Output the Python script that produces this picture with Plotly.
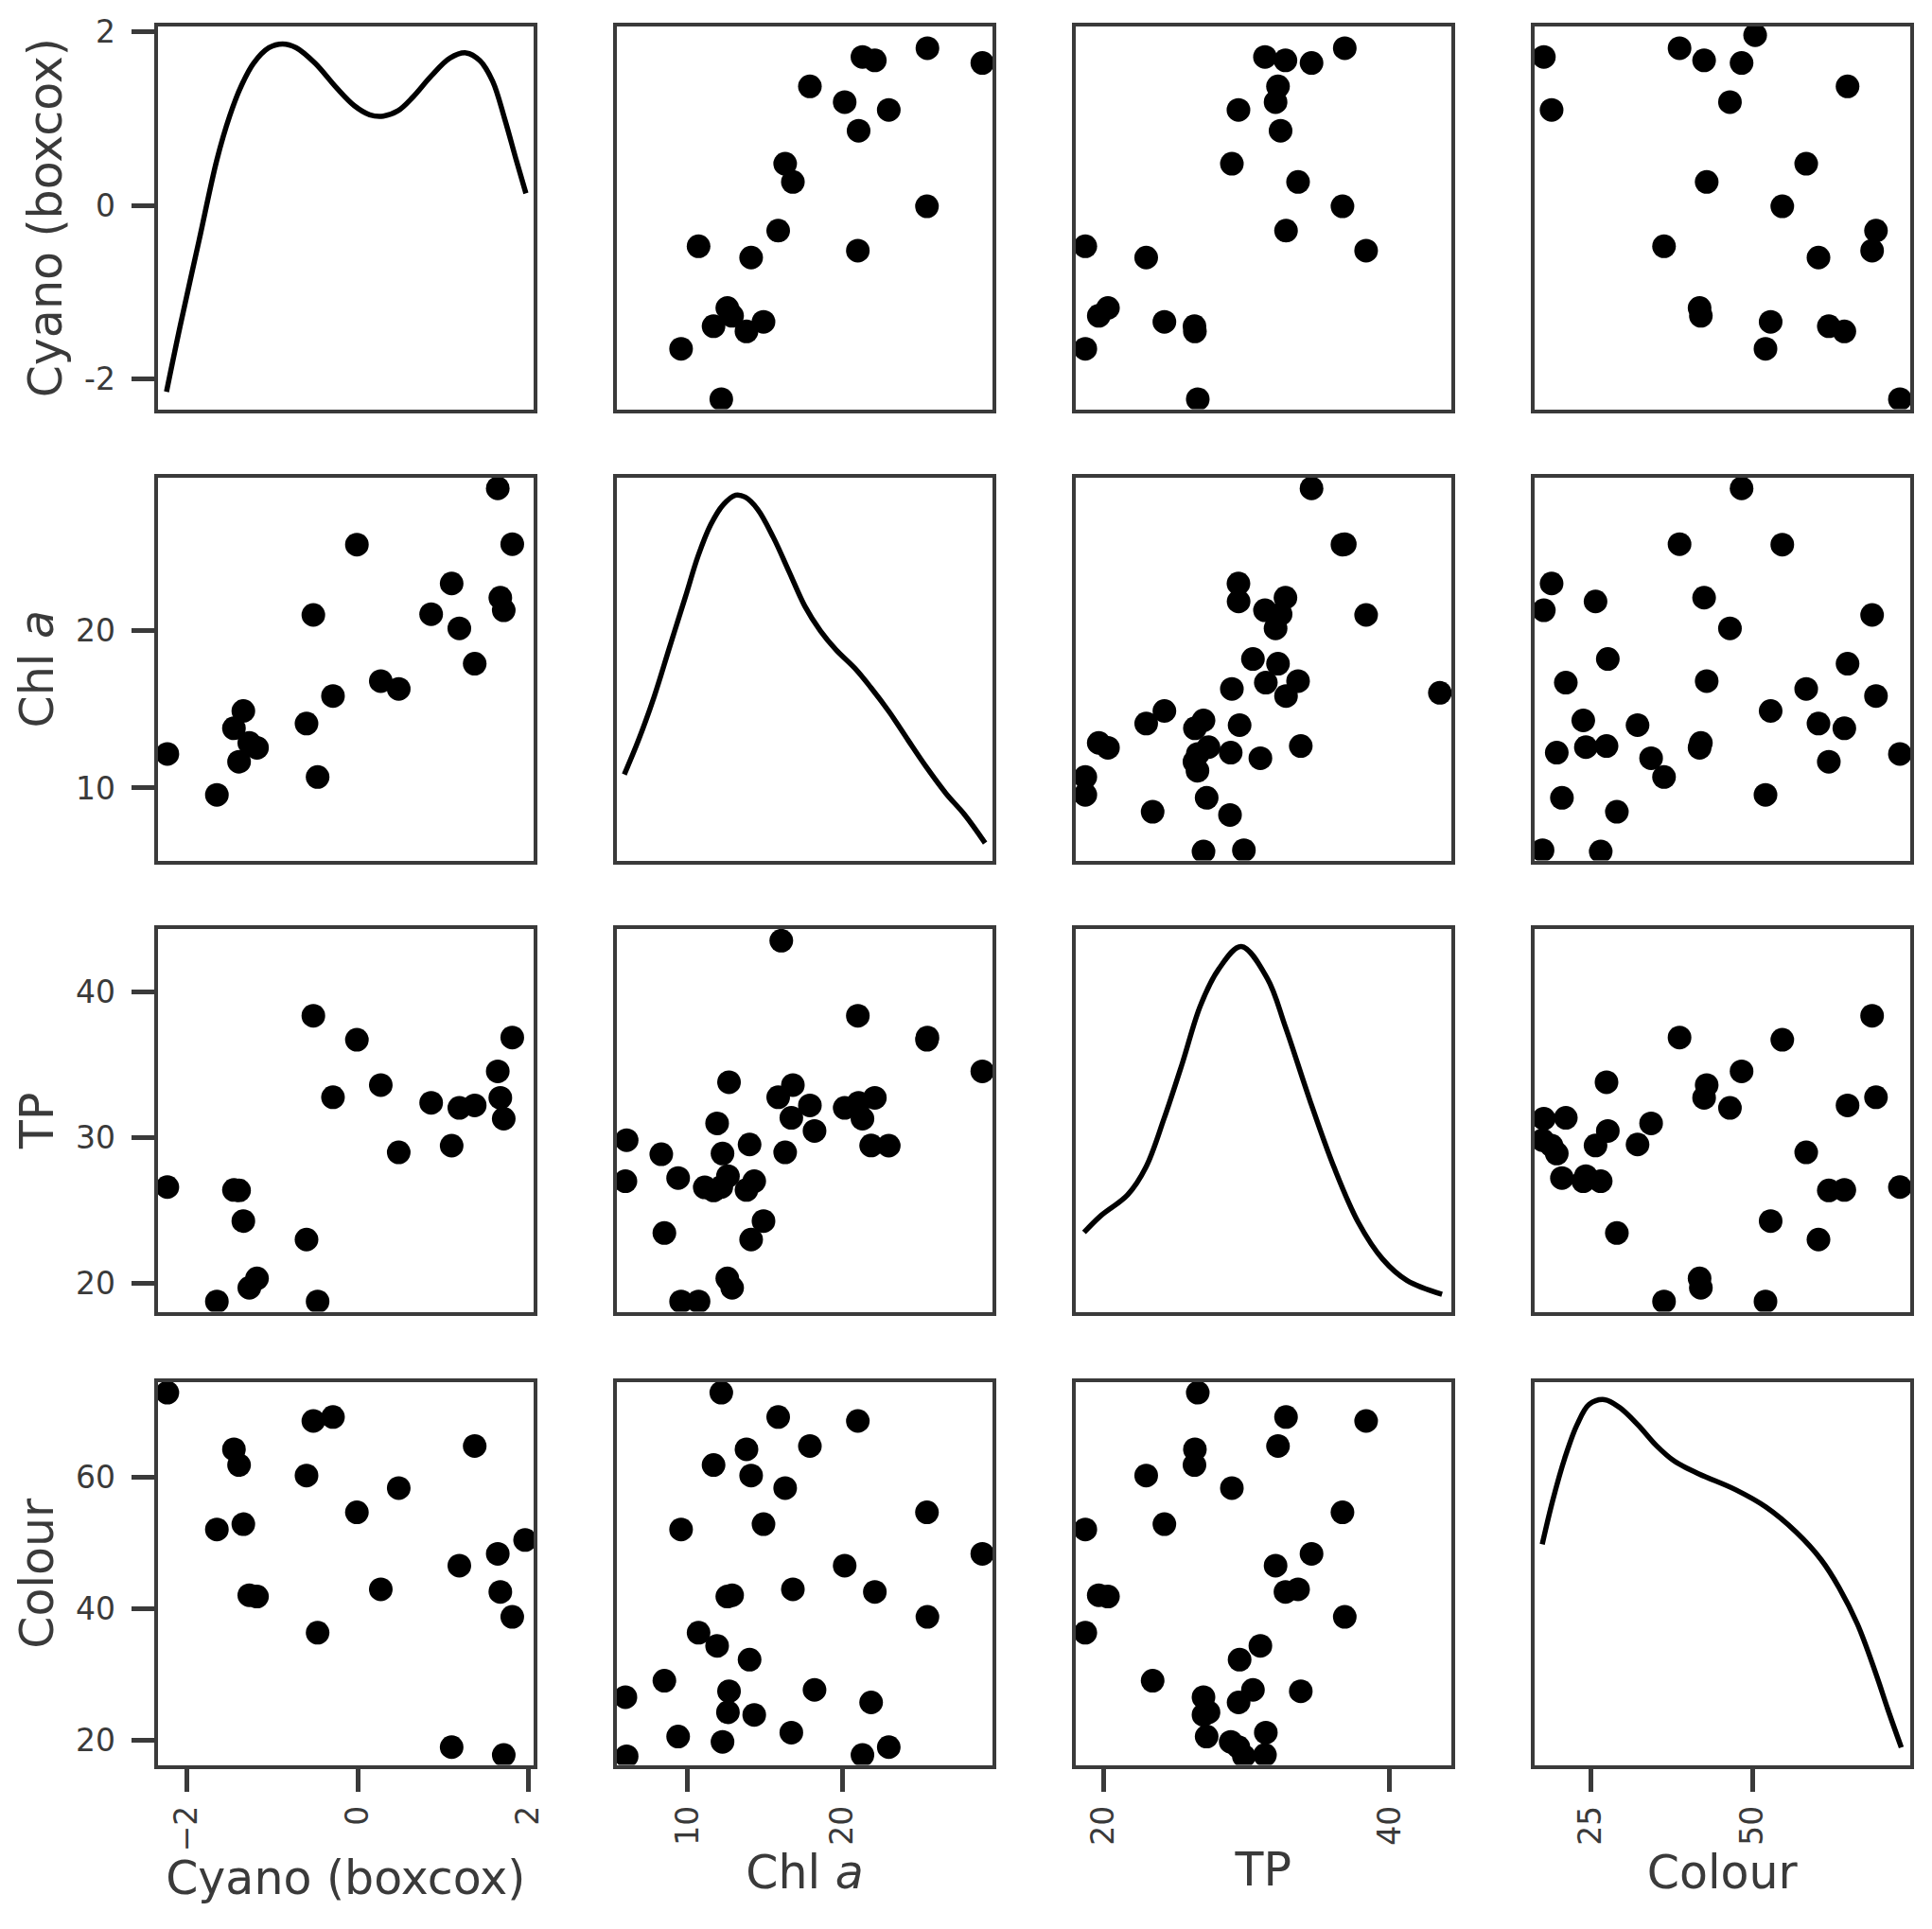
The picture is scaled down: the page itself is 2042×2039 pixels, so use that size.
import plotly.graph_objects as go

# one row per sample; None = value missing for that sample
cyano = [-1.65, -0.47, -2.23, -1.39, -1.18, -1.27, -1.45, -1.34, -0.60, -0.29,
         0.48, 0.27, 1.37, 1.19, 0.86, -0.52, 1.71, 1.67, 1.10, 1.81,
         -0.01, 1.64, 1.96,
         None, None, None, None, None, None, None, None, None, None,
         None, None, None, None, None, None]
chl_a = [9.57, 10.7, 12.17, 11.67, 12.56, 12.87, 13.8, 14.9, 14.1, 15.85,
         16.3, 16.8, 17.9, 20.15, 21.05, 21.0, 21.3, 22.1, 23.0, 25.5,
         25.47, 29.05, None,
         21.86, 18.2, 16.7, 16.05, 14.3, 14.0, 12.6, 11.1, 12.25, 11.9,
         12.67, 9.38, 8.49, 8.29, 5.97, 6.05]
tp = [18.75, 18.75, 26.6, 26.37, 20.33, 19.69, 26.4, 24.27, 23.0, 32.76,
      28.98, 33.6, 32.2, 32.03, 32.38, 38.35, 31.29, 32.72, 29.44, 36.86,
      36.7, 34.54, None,
      29.45, 30.45, 31.35, 43.5, 27.0, 29.52, 27.35, 26.58, 28.9, 30.97,
      33.79, 27.22, 23.45, 28.85, 27.0, 29.82]
colour = [52.0, 36.3, 72.8, 61.8, 41.8, 42.0, 64.2, 52.8, 60.2, 69.1,
          58.3, 42.9, 64.7, 46.5, None, 68.5, 17.7, 42.5, 18.9, 38.7,
          54.6, 48.3, 50.4,
          25.7, 27.6, 21.1, None, 23.8, 32.2, 24.2, None, 19.7, 34.3,
          27.4, 20.5, 29.0, None, 26.5, 17.5]

# diagonal kde curves (x, density)
kde_cyano_x = [-2.24, -2.08, -1.86, -1.65, -1.50, -1.36, -1.22, -1.04, -0.88, -0.72,
               -0.50, -0.25, -0.04, 0.14, 0.30, 0.47, 0.65, 0.86, 1.08, 1.27,
               1.43, 1.58, 1.72, 1.86, 1.97]
kde_cyano_y = [0.010, 0.061, 0.127, 0.190, 0.224, 0.248, 0.265, 0.277, 0.280, 0.277,
               0.265, 0.246, 0.232, 0.225, 0.224, 0.228, 0.239, 0.255, 0.269, 0.273,
               0.267, 0.251, 0.222, 0.189, 0.164]
kde_chl_x = [5.90, 6.81, 7.83, 8.84, 9.85, 10.67, 11.48, 12.29, 13.10, 13.71,
             14.52, 15.54, 16.55, 17.57, 18.58, 19.59, 20.81, 21.83, 23.04, 24.26,
             25.48, 26.70, 27.91, 29.23]
kde_chl_y = [0.0177, 0.0247, 0.0337, 0.0440, 0.0542, 0.0626, 0.0690, 0.0731, 0.0751, 0.0747,
             0.0722, 0.0664, 0.0594, 0.0523, 0.0472, 0.0433, 0.0395, 0.0356, 0.0305, 0.0247,
             0.0190, 0.0138, 0.0094, 0.0036]
kde_tp_x = [18.66, 19.81, 21.71, 22.98, 24.25, 25.52, 26.79, 28.06, 29.63, 31.45,
            32.72, 34.42, 36.11, 37.80, 39.50, 41.19, 43.65]
kde_tp_y = [0.0158, 0.0192, 0.0236, 0.0293, 0.0394, 0.0508, 0.0628, 0.0703, 0.0750, 0.0684,
            0.0583, 0.0432, 0.0293, 0.0179, 0.0103, 0.0059, 0.0030]
kde_colour_x = [17.45, 19.06, 20.94, 22.83, 24.72, 27.08, 29.43, 32.26, 35.09, 37.92,
                41.70, 47.36, 52.08, 56.79, 60.57, 63.40, 66.23, 69.06, 70.94, 73.02]
kde_colour_y = [0.01485, 0.0176, 0.0203, 0.0224, 0.0237, 0.0240, 0.0235, 0.0224, 0.0211, 0.0201,
                0.0193, 0.0183, 0.0172, 0.0156, 0.0139, 0.0121, 0.0098, 0.0067, 0.0044, 0.0020]

names = ["Cyano (boxcox)", "Chl <i>a</i>", "TP", "Colour"]
x_ticks = [[-2, 0, 2], [10, 20], [20, 40], [25, 50]]
x_ticktext = [["\u22122", "0", "2"], ["10", "20"], ["20", "40"], ["25", "50"]]
y_ticks = [[-2, 0, 2], [10, 20], [20, 30, 40], [20, 40, 60]]
y_ticktext = [["-2", "0", "2"], ["10", "20"], ["20", "30", "40"], ["20", "40", "60"]]

# ---- layout (page pixels; the page body adds an 8px margin) ----
PAGE_W, PAGE_H = 2042, 2039
OFF = 8
W, H = PAGE_W - 2 * OFF, PAGE_H - 2 * OFF
COL_L = [164.5, 649.7, 1134.5, 1619.5]
ROW_T = [26.0, 503.0, 980.0, 1459.0]
PW, PH = 401.5, 408.5
LW = 4
EDGE = "#3a3a3a"
FONT = "DejaVu Sans"
RANGES = [[-2.345, 2.06], [5.4, 29.72], [18.05, 44.3], [16.2, 74.4]]

cols = [cyano, chl_a, tp, colour]
kdes = [(kde_cyano_x, kde_cyano_y), (kde_chl_x, kde_chl_y),
        (kde_tp_x, kde_tp_y), (kde_colour_x, kde_colour_y)]

fig = go.Figure()
layout = {}


def ax_id(k):
    return "" if k == 1 else str(k)


for r in range(4):
    for c in range(4):
        k = r * 4 + c + 1
        x0 = (COL_L[c] - OFF + LW / 2) / W
        x1 = (COL_L[c] - OFF + PW - LW / 2) / W
        y1 = 1 - (ROW_T[r] - OFF + LW / 2) / H
        y0 = 1 - (ROW_T[r] - OFF + PH - LW / 2) / H
        xa = dict(domain=[x0, x1], anchor="y" + ax_id(k), range=RANGES[c],
                  showline=True, mirror=True, linewidth=LW, linecolor=EDGE,
                  showgrid=False, zeroline=False, ticks="", showticklabels=False,
                  automargin=False)
        ya = dict(domain=[y0, y1], anchor="x" + ax_id(k), range=RANGES[r],
                  showline=True, mirror=True, linewidth=LW, linecolor=EDGE,
                  showgrid=False, zeroline=False, ticks="", showticklabels=False,
                  automargin=False)
        if r == 3:
            xa.update(ticks="outside", ticklen=24, tickwidth=4.5, tickcolor=EDGE,
                      showticklabels=True, tickvals=x_ticks[c], ticktext=x_ticktext[c],
                      tickangle=-90, ticklabelstandoff=2,
                      tickfont=dict(family=FONT, size=33, color=EDGE),
                      title=dict(text=names[c], standoff=10,
                                 font=dict(family=FONT, size=49, color=EDGE)))
        if c == 0:
            ya.update(ticks="outside", ticklen=24, tickwidth=4.5, tickcolor=EDGE,
                      showticklabels=True, tickvals=y_ticks[r], ticktext=y_ticktext[r],
                      ticklabelstandoff=10,
                      tickfont=dict(family=FONT, size=33, color=EDGE),
                      title=dict(text=names[r], standoff=9,
                                 font=dict(family=FONT, size=49, color=EDGE)))
        layout["xaxis" + ax_id(k)] = xa
        layout["yaxis" + ax_id(k)] = ya

        if r == c:
            # invisible pass over the samples so the panel's own axes get drawn
            vals = [v for v in cols[r] if v is not None]
            fig.add_trace(go.Scatter(x=vals, y=vals, mode="markers",
                                     marker=dict(opacity=0, size=1),
                                     xaxis="x" + ax_id(k), yaxis="y" + ax_id(k),
                                     showlegend=False, hoverinfo="skip"))
            # kde on an overlaid, hidden density axis
            kx, ky = kdes[r]
            lo, hi = min(ky), max(ky)
            pad = 0.05 * (hi - lo)
            dk = 17 + r
            layout["yaxis%d" % dk] = dict(overlaying="y" + ax_id(k), anchor="x" + ax_id(k),
                                          range=[lo - pad, hi + pad], visible=False,
                                          showgrid=False, zeroline=False, automargin=False)
            fig.add_trace(go.Scatter(x=kx, y=ky, mode="lines",
                                     line=dict(color="black", width=5.5, shape="spline"),
                                     xaxis="x" + ax_id(k), yaxis="y%d" % dk,
                                     showlegend=False, hoverinfo="skip"))
        else:
            px_ = [a for a, b in zip(cols[c], cols[r]) if a is not None and b is not None]
            py_ = [b for a, b in zip(cols[c], cols[r]) if a is not None and b is not None]
            fig.add_trace(go.Scatter(x=px_, y=py_, mode="markers",
                                     marker=dict(color="black", size=25, line=dict(width=0)),
                                     xaxis="x" + ax_id(k), yaxis="y" + ax_id(k),
                                     showlegend=False))

fig.update_layout(**layout)
fig.update_layout(width=W, height=H, margin=dict(l=0, r=0, t=0, b=0),
                  paper_bgcolor="white", plot_bgcolor="rgba(0,0,0,0)",
                  font=dict(family=FONT, color=EDGE))
fig.write_html("out.html")
